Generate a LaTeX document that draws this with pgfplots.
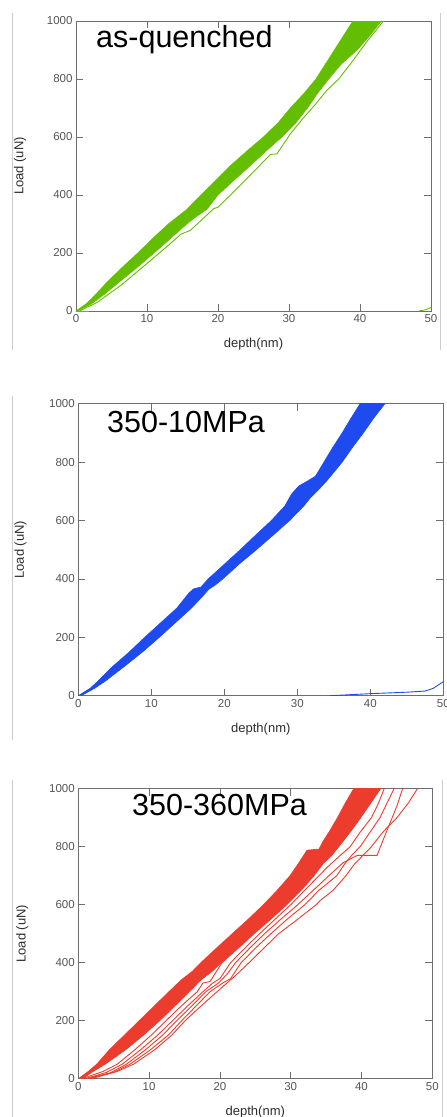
\documentclass[border=0pt]{standalone}
\usepackage{pgfplots}
\pgfplotsset{compat=1.18}
\usepackage{fontspec}
\setmainfont{Liberation Sans}
\definecolor{gc}{RGB}{100,190,0}
\definecolor{bc}{RGB}{30,75,240}
\definecolor{rc}{RGB}{235,60,45}
\definecolor{axgray}{RGB}{110,110,110}
\definecolor{tickgray}{RGB}{85,85,85}
\definecolor{labgray}{RGB}{45,45,45}
\pgfplotsset{
 panel/.style={
  scale only axis, anchor=south west,
  xmin=0,xmax=50,ymin=0,ymax=1000,
  xtick={0,10,20,30,40,50}, ytick={0,200,400,600,800,1000},
  tick align=inside, tick pos=both,
  major tick length=7pt,
  axis line style={draw=axgray, line width=0.8pt},
  every tick/.style={draw=axgray, line width=0.8pt},
  tick label style={font=\fontsize{11.5}{13}\selectfont, text=tickgray},
  /pgf/number format/assume math mode=true,
  /pgf/number format/1000 sep={},
  label style={font=\fontsize{13}{15}\selectfont, text=labgray},
  xlabel={depth(nm)}, ylabel={Load (uN)},
  xlabel style={at={(axis description cs:0.5,-0.114)}, anchor=center},
  ylabel style={at={(axis description cs:-0.158,0.5)}, anchor=center},
 },
 band/.style={draw=#1, fill=#1, line width=0.6pt},
 thin/.style={draw=#1, line width=0.9pt, no markers},
}
\begin{document}
\begin{tikzpicture}[x=1pt,y=1pt]
\useasboundingbox (0,0) rectangle (447,-1117);
\draw[black!20, line width=0.7pt] (12.7,-13) -- (12.7,-350);
\draw[black!20, line width=0.7pt] (440.5,-13) -- (440.5,-350);
\draw[black!20, line width=0.7pt] (12.7,-396) -- (12.7,-740);
\draw[black!20, line width=0.7pt] (12.7,-780) -- (12.7,-1117);
\draw[black!20, line width=0.7pt] (442.7,-780) -- (442.7,-1117);

% ---------- Panel 1: as-quenched ----------
\begin{axis}[panel, at={(76pt,-311pt)}, width=355pt, height=290pt]
\addplot[band=gc] coordinates {
(0,0) (1.45,25) (2.5,50) (4.4,100) (6.5,150) (8.7,200) (10.8,250) (13.0,300)
(14.3,325) (15.6,350) (17.6,400) (19.65,450) (21.7,500) (24.0,550) (26.4,600)
(28.5,650) (30.2,700) (32.1,750) (33.8,800) (35.1,850) (36.4,900) (37.7,950)
(39.0,1000) (39.8,1030)
(44.0,1030) (43.0,1000) (41.4,950) (39.6,900) (37.3,850) (35.6,800) (34.0,750)
(32.6,700) (31.0,650) (29.0,600) (26.7,550) (24.5,500) (22.2,450) (20.0,400)
(18.4,350) (16.9,325) (15.6,300) (13.3,250) (11.0,200) (8.6,150) (6.1,100)
(3.6,50) (2.2,25) (0.3,0)
};
\addplot[thin=gc] coordinates {
(0.5,0) (3,30) (6.4,90) (10.3,170) (12.7,220) (14.8,265) (16.1,278) (19.4,353)
(20.0,358) (23.0,430) (25.2,485) (27.4,540) (28.3,542) (30.2,611) (32.0,665)
(33.8,715) (35.3,760) (37.0,800) (38.9,860) (41.0,930) (43.3,1000) (44.0,1025)
};
\addplot[thin=gc] coordinates {(0,0) (1.8,0)};
\addplot[thin=gc] coordinates {(48.3,0) (49.2,4) (50,12)};
\end{axis}

% ---------- Panel 2: 350-10MPa ----------
\begin{axis}[panel, at={(78.3pt,-695.7pt)}, width=365pt, height=292pt]
\addplot[band=bc] coordinates {
(0,0) (1.6,25) (2.7,50) (4.7,100) (7.0,150) (9.1,200) (11.3,250) (13.5,300)
(15.1,350) (15.8,366) (16.8,372) (17.8,400) (20.0,450) (22.2,500) (24.3,550)
(26.45,600) (28.3,650) (29.2,690) (30.2,718) (31.4,735) (32.5,752) (33.65,800)
(34.85,850) (36.15,900) (37.35,950) (38.6,1000) (39.3,1030)
(42.7,1030) (42.0,1000) (40.45,950) (39.05,900) (37.55,850) (36.15,800)
(35.0,765) (34.0,735) (33.0,708) (31.8,678) (30.9,650) (28.95,600) (26.7,550)
(24.4,500) (22.0,450) (19.8,400) (18.7,378) (17.9,365) (17.0,340) (15.5,300)
(13.3,250) (11.1,200) (8.8,150) (6.3,100) (3.7,50) (2.2,25) (0.4,0)
};
\addplot[thin=bc] coordinates {(34.5,0) (40,7) (45,12) (47.5,16) (48.6,25) (50,48)};
\end{axis}

% ---------- Panel 3: 350-360MPa ----------
\begin{axis}[panel, at={(78.3pt,-1078.7pt)}, width=354pt, height=290pt]
\addplot[thin=rc] coordinates {
(0.5,0) (3.5,25) (5.5,50) (8.0,100) (10.3,150) (12.4,200) (14.5,250) (16.8,300)
(17.6,330) (18.6,335) (20.3,400) (22.5,450) (24.3,500) (26.5,550) (28.6,600)
(30.6,650) (32.8,700) (34.0,730) (35.2,760) (36.5,800) (38.0,850) (39.5,900)
(41.0,950) (42.3,1000) (42.6,1020)
};
\addplot[thin=rc] coordinates {
(1.0,0) (4.0,22) (6.2,50) (8.8,100) (11.2,150) (13.3,200) (15.4,250) (17.6,300)
(19.0,330) (20.0,345) (21.5,400) (23.5,450) (25.6,500) (27.8,550) (30.0,600)
(32.0,650) (34.0,700) (35.2,730) (37.0,770) (38.4,800) (39.8,850) (41.4,900)
(42.4,950) (43.2,1000) (43.5,1020)
};
\addplot[thin=rc] coordinates {
(1.5,0) (4.5,20) (6.8,50) (9.5,100) (11.9,150) (13.9,200) (16.0,250) (18.0,300)
(19.8,330) (21.0,360) (22.2,400) (24.2,450) (26.3,500) (28.6,550) (31.0,600)
(33.2,650) (35.4,700) (37.4,745) (39.4,770) (42.2,770) (43.0,820) (44.0,880)
(45.0,940) (45.8,1000) (46.0,1020)
};
\addplot[thin=rc] coordinates {
(1.0,0) (5.0,22) (7.3,50) (10.2,100) (12.7,150) (14.6,200) (16.6,250) (18.6,300)
(20.4,330) (21.5,345) (23.0,400) (25.0,450) (27.2,500) (29.5,550) (32.0,600)
(34.0,650) (36.5,700) (37.6,740) (38.6,770) (39.8,800) (41.2,850) (42.6,900)
(43.6,950) (44.6,1000) (44.9,1020)
};
\addplot[thin=rc] coordinates {
(1.8,0) (5.5,25) (7.8,50) (10.8,100) (13.2,150) (15.1,200) (17.3,250) (19.6,300)
(21.0,330) (22.4,360) (24.1,400) (26.2,450) (28.3,500) (31.0,550) (33.6,600)
(34.2,615) (36.0,650) (37.8,700) (39.0,740) (40.2,770) (41.4,800) (43.0,850)
(45.0,900) (46.6,950) (47.9,1000) (48.2,1020)
};
\addplot[band=rc] coordinates {
(0,0) (1.4,25) (2.6,50) (4.4,100) (6.5,150) (8.6,200) (10.7,250) (12.8,300)
(14.5,340) (16.1,370) (17.3,400) (19.5,450) (21.75,500) (24.0,550) (26.15,600)
(28.1,650) (29.9,700) (31.3,750) (32.3,788) (34.0,792) (34.6,820) (35.4,850)
(36.6,900) (37.7,950) (38.9,1000) (39.7,1030)
(43.5,1030) (42.7,1000) (41.3,950) (39.9,900) (38.4,850) (36.8,800) (35.8,770)
(34.7,745) (33.3,700) (31.5,650) (29.45,600) (27.2,550) (24.85,500) (22.6,450)
(20.2,400) (18.9,370) (17.3,340) (15.7,300) (13.6,250) (11.5,200) (9.2,150)
(6.7,100) (3.8,50) (2.1,25) (0.6,0)
};
\end{axis}

\node[anchor=base west, font=\fontsize{30.5}{32}\selectfont, inner sep=0pt] at (96,-47) {as-quenched};
\node[anchor=base west, font=\fontsize{30.5}{32}\selectfont, inner sep=0pt] at (107,-432) {350-10MPa};
\node[anchor=base west, font=\fontsize{30.5}{32}\selectfont, inner sep=0pt] at (132,-815) {350-360MPa};
\end{tikzpicture}
\end{document}
